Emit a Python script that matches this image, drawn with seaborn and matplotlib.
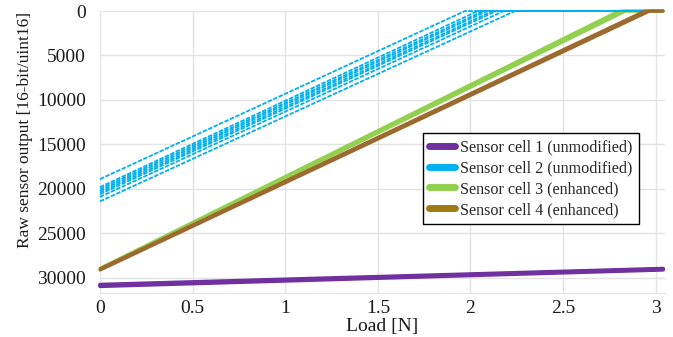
import numpy as np
import pandas as pd
import matplotlib
matplotlib.use("Agg")
import matplotlib.pyplot as plt
from matplotlib.lines import Line2D
import seaborn as sns

# sensor labels and colours
sensors = ["Sensor cell 1 (unmodified)", "Sensor cell 2 (unmodified)",
           "Sensor cell 3 (enhanced)", "Sensor cell 4 (enhanced)"]
line_colors = ["#7030a0", "#00b0f0", "#92d050", "#9c6a2e"]
legend_colors = ["#7030a0", "#00b0f0", "#92d050", "#a07a12"]

load_end = 3.04

# sensor 1: slow drift, start/end output per trial
s1_start = [30750, 30850, 30950]
s1_end = [28950, 29020, 29100]

# sensor 2: start output and load where output hits 0, then flat until s2_flat_end
s2_start = [18900, 19800, 20000, 20200, 20400, 20600, 20900, 21400]
s2_zero = [1.97, 2.04, 2.07, 2.09, 2.12, 2.14, 2.18, 2.24]
s2_flat_end = 2.93

# sensor 3 and 4
s3_start = [28900, 29000, 29100]
s3_zero = [2.80, 2.82, 2.84]
s4_start = [28950, 29050, 29150]
s4_zero = [2.94, 2.96, 2.97]

rows = []
for t, (a, b) in enumerate(zip(s1_start, s1_end)):
    rows += [(sensors[0], t, 0.0, a), (sensors[0], t, load_end, b)]
for t, (a, z) in enumerate(zip(s2_start, s2_zero)):
    rows += [(sensors[1], t, 0.0, a), (sensors[1], t, z, 0), (sensors[1], t, s2_flat_end, 0)]
for t, (a, z) in enumerate(zip(s3_start, s3_zero)):
    rows += [(sensors[2], t, 0.0, a), (sensors[2], t, z, 0), (sensors[2], t, load_end, 0)]
for t, (a, z) in enumerate(zip(s4_start, s4_zero)):
    rows += [(sensors[3], t, 0.0, a), (sensors[3], t, z, 0), (sensors[3], t, load_end, 0)]
df = pd.DataFrame(rows, columns=["sensor", "trial", "load", "output"])

sns.set_style("whitegrid")
plt.rcParams["font.family"] = ["Liberation Serif", "DejaVu Serif"]

fig = plt.figure(figsize=(6.73, 3.37), dpi=100)
ax = fig.add_axes([0.1486, 0.1306, 0.8395, 0.8367])

# draw order: purple, green, blue, brown
draw = [(0, 2.6, "-"), (2, 2.0, "-"), (1, 1.3, (0, (2.5, 0.8))), (3, 2.0, "-")]
for i, lw, ls in draw:
    sub = df[df["sensor"] == sensors[i]]
    sns.lineplot(data=sub, x="load", y="output", units="trial", estimator=None,
                 color=line_colors[i], lw=lw, linestyle=ls, ax=ax, legend=False,
                 clip_on=False)

ax.set_xlim(0, 3.05)
ax.set_ylim(31700, 0)
ax.set_xticks([0, 0.5, 1, 1.5, 2, 2.5, 3])
ax.set_xticklabels(["0", "0.5", "1", "1.5", "2", "2.5", "3"])
ax.set_yticks([0, 5000, 10000, 15000, 20000, 25000, 30000])
ax.set_yticklabels(["0", "5000", "10000", "15000", "20000", "25000", "30000"])
ax.tick_params(labelsize=14, colors="#1a1a1a", length=0)
ax.tick_params(axis="y", pad=10)
ax.tick_params(axis="x", pad=5)
ax.grid(True, color="#e3e3e3", lw=1)
for s in ["top", "right", "left"]:
    ax.spines[s].set_visible(False)
ax.spines["bottom"].set_color("#e3e3e3")

ax.set_xlabel("Load [N]", fontsize=14, color="#1a1a1a", labelpad=1)
ax.set_ylabel("Raw sensor output [16-bit/uint16]", fontsize=12.5, color="#1a1a1a")
ax.yaxis.set_label_coords(-0.118, 0.578)

handles = [Line2D([0], [0], color=c, lw=5, solid_capstyle="round") for c in legend_colors]
leg = ax.legend(handles, sensors, loc="upper left",
                bbox_to_anchor=(423 / 673, 1 - 133 / 337), bbox_transform=fig.transFigure,
                borderaxespad=0, fontsize=11.6, frameon=True, fancybox=False,
                framealpha=1, edgecolor="black", handlelength=1.6, handletextpad=0.3,
                labelspacing=0.3, borderpad=0.4)
leg.get_frame().set_linewidth(1.0)

fig.savefig("out.png", dpi=100)
